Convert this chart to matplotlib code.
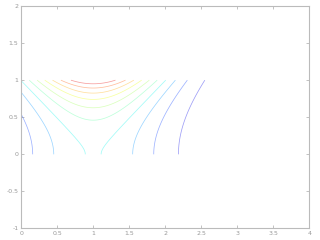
import matplotlib
import numpy as np

matplotlib.use("Agg")
import matplotlib.pyplot as plt  # noqa: E402

# surface z = exp(y^2 - (x - 1)^2) sampled on the rectangle [0, 4] x [0, 1]
x_range = [0.0, 4.0]
y_range = [0.0, 1.0]
x_center = 1.0
# contour levels (10 evenly spaced, ~0.247 apart)
levels = [0.247, 0.494, 0.741, 0.988, 1.236, 1.483, 1.730, 1.977, 2.224, 2.471]
xticks = [0, 0.5, 1, 1.5, 2, 2.5, 3, 3.5, 4]
yticks = [-1, -0.5, 0, 0.5, 1, 1.5, 2]

x = np.linspace(x_range[0], x_range[1], 401)
y = np.linspace(y_range[0], y_range[1], 101)
X, Y = np.meshgrid(x, y)
Z = np.exp(Y ** 2 - (X - x_center) ** 2)

fig = plt.figure(figsize=(3.2, 2.4), dpi=100)
ax = fig.add_axes([0.066, 0.048, 0.901, 0.927])
ax.contour(X, Y, Z, levels=levels, cmap="jet", vmin=Z.min(), vmax=Z.max(),
           linewidths=0.55, alpha=0.38)

ax.set_xlim(0, 4)
ax.set_ylim(-1, 2)
ax.set_xticks(xticks)
ax.set_yticks(yticks)
ax.set_xticklabels([f"{t:g}" for t in xticks])
ax.set_yticklabels([f"{t:g}" for t in yticks])
ax.tick_params(direction="in", length=2, width=0.5, color="#aaaaaa",
               labelsize=4.5, labelcolor="#999999", pad=2,
               top=True, right=True)
for s in ax.spines.values():
    s.set_color("#bbbbbb")
    s.set_linewidth(0.8)

fig.savefig("out.png", dpi=100)
